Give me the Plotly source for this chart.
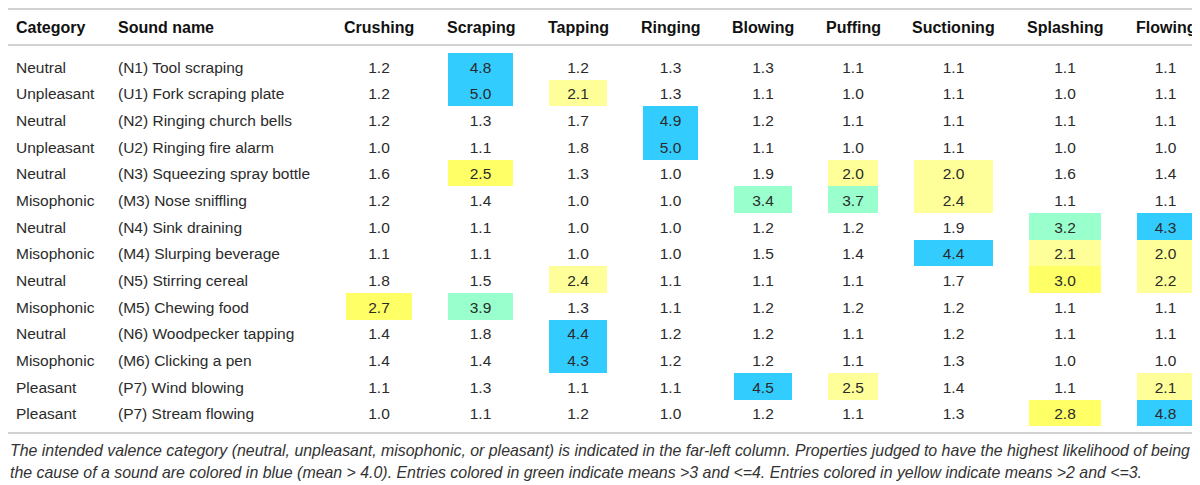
import plotly.graph_objects as go
#
# Table contents
categories = ["Neutral", "Unpleasant", "Neutral", "Unpleasant", "Neutral", "Misophonic", "Neutral",
              "Misophonic", "Neutral", "Misophonic", "Neutral", "Misophonic", "Pleasant", "Pleasant"]
sound_names = ["(N1) Tool scraping", "(U1) Fork scraping plate", "(N2) Ringing church bells",
               "(U2) Ringing fire alarm", "(N3) Squeezing spray bottle", "(M3) Nose sniffling",
               "(N4) Sink draining", "(M4) Slurping beverage", "(N5) Stirring cereal",
               "(M5) Chewing food", "(N6) Woodpecker tapping", "(M6) Clicking a pen",
               "(P7) Wind blowing", "(P7) Stream flowing"]
properties = ["Crushing", "Scraping", "Tapping", "Ringing", "Blowing",
              "Puffing", "Suctioning", "Splashing", "Flowing"]
#
crushing = [1.2, 1.2, 1.2, 1.0, 1.6, 1.2, 1.0, 1.1, 1.8, 2.7, 1.4, 1.4, 1.1, 1.0]
scraping = [4.8, 5.0, 1.3, 1.1, 2.5, 1.4, 1.1, 1.1, 1.5, 3.9, 1.8, 1.4, 1.3, 1.1]
tapping = [1.2, 2.1, 1.7, 1.8, 1.3, 1.0, 1.0, 1.0, 2.4, 1.3, 4.4, 4.3, 1.1, 1.2]
ringing = [1.3, 1.3, 4.9, 5.0, 1.0, 1.0, 1.0, 1.0, 1.1, 1.1, 1.2, 1.2, 1.1, 1.0]
blowing = [1.3, 1.1, 1.2, 1.1, 1.9, 3.4, 1.2, 1.5, 1.1, 1.2, 1.2, 1.2, 4.5, 1.2]
puffing = [1.1, 1.0, 1.1, 1.0, 2.0, 3.7, 1.2, 1.4, 1.1, 1.2, 1.1, 1.1, 2.5, 1.1]
suctioning = [1.1, 1.1, 1.1, 1.1, 2.0, 2.4, 1.9, 4.4, 1.7, 1.2, 1.2, 1.3, 1.4, 1.3]
splashing = [1.1, 1.0, 1.1, 1.0, 1.6, 1.1, 3.2, 2.1, 3.0, 1.1, 1.1, 1.0, 1.1, 2.8]
flowing = [1.1, 1.1, 1.1, 1.0, 1.4, 1.1, 4.3, 2.0, 2.2, 1.1, 1.1, 1.0, 2.1, 4.8]
#
caption_1 = ("The intended valence category (neutral, unpleasant, misophonic, or pleasant) is indicated "
             "in the far-left column. Properties judged to have the highest likelihood of being")
caption_2 = ("the cause of a sound are colored in blue (mean &gt; 4.0). Entries colored in green indicate "
             "means &gt;3 and &lt;=4. Entries colored in yellow indicate means &gt;2 and &lt;=3.")
#
# Styling
BLUE, GREEN, YELLOW, PALE_YELLOW = "#33CCFF", "#99FFCC", "#FFFF66", "#FFFF99"
# the source shades a few yellow cells darker (row, property)
strong_yellow = {(4, "Scraping"), (9, "Crushing"), (8, "Splashing"), (13, "Splashing")}
FONT = "Liberation Sans, Arial, sans-serif"
#
# The page body keeps its default 8px margin, so the figure is drawn 8px in from the window corner
OFF = 8
FW, FH = 1200 - OFF, 485 - OFF
#
def fx(px):
    return (px - OFF) / FW
#
def fy(py):
    return 1 - (py - OFF) / FH
#
def cell_color(v, row, prop):
    if v > 4.0:
        return BLUE
    if v > 3.0:
        return GREEN
    if v >= 2.0:
        return YELLOW if (row, prop) in strong_yellow else PALE_YELLOW
    return "white"
#
series = [crushing, scraping, tapping, ringing, blowing, puffing, suctioning, splashing, flowing]
prop_widths = [66, 65, 58, 55, 58, 50, 79, 72, 57]
gap = 36
#
header_vals = ["<b>Category</b>", "<b>Sound name</b>"]
cell_vals = [categories, sound_names]
fills = [["white"] * 14, ["white"] * 14]
aligns = ["left", "left"]
widths = [102, 236]
prop_centers = []
for i, (prop, vals) in enumerate(zip(properties, series)):
    if i > 0:
        header_vals.append("")
        cell_vals.append([""] * 14)
        fills.append(["white"] * 14)
        aligns.append("center")
        widths.append(gap)
    prop_centers.append(sum(widths) + prop_widths[i] / 2)
    header_vals.append("")
    cell_vals.append(["%.1f" % v for v in vals])
    fills.append([cell_color(v, r, prop) for r, v in enumerate(vals)])
    aligns.append("center")
    widths.append(prop_widths[i])
#
table = go.Table(
    domain=dict(x=[0, sum(widths) / FW], y=[fy(432), fy(11)]),
    columnwidth=widths,
    header=dict(values=header_vals, align=aligns, height=42,
                fill=dict(color="white"), line=dict(width=0),
                font=dict(family=FONT, size=16, color="#111")),
    cells=dict(values=cell_vals, align=aligns, height=26.67,
               fill=dict(color=fills), line=dict(width=0),
               font=dict(family=FONT, size=15.5, color="#2b2b2b")),
)
#
def rule(y_px):
    return dict(type="line", xref="paper", yref="paper", x0=0, x1=fx(1193),
                y0=fy(y_px), y1=fy(y_px), line=dict(color="#d2d2d2", width=2))
#
# Property headers are wider than their shaded cells, so they are laid over the table
header_notes = [dict(text="<b>" + prop + "</b>", x=c / FW, y=fy(27), xref="paper", yref="paper",
                     xanchor="center", yanchor="middle", showarrow=False,
                     font=dict(family=FONT, size=16, color="#111"))
                for prop, c in zip(properties, prop_centers)]
caption_notes = [dict(text="<i>" + t + "</i>", x=0, y=fy(yy), xref="paper", yref="paper",
                      xanchor="left", yanchor="middle", showarrow=False,
                      font=dict(family=FONT, size=15.9, color="#333"))
                 for t, yy in [(caption_1, 450), (caption_2, 472)]]
#
layout = go.Layout(
    width=FW, height=FH,
    margin=dict(l=0, r=0, t=0, b=0),
    paper_bgcolor="white",
    shapes=[rule(9), rule(45), rule(433)],
    annotations=header_notes + caption_notes,
)
fig = go.Figure(data=[table], layout=layout)
fig.write_html("out.html")
